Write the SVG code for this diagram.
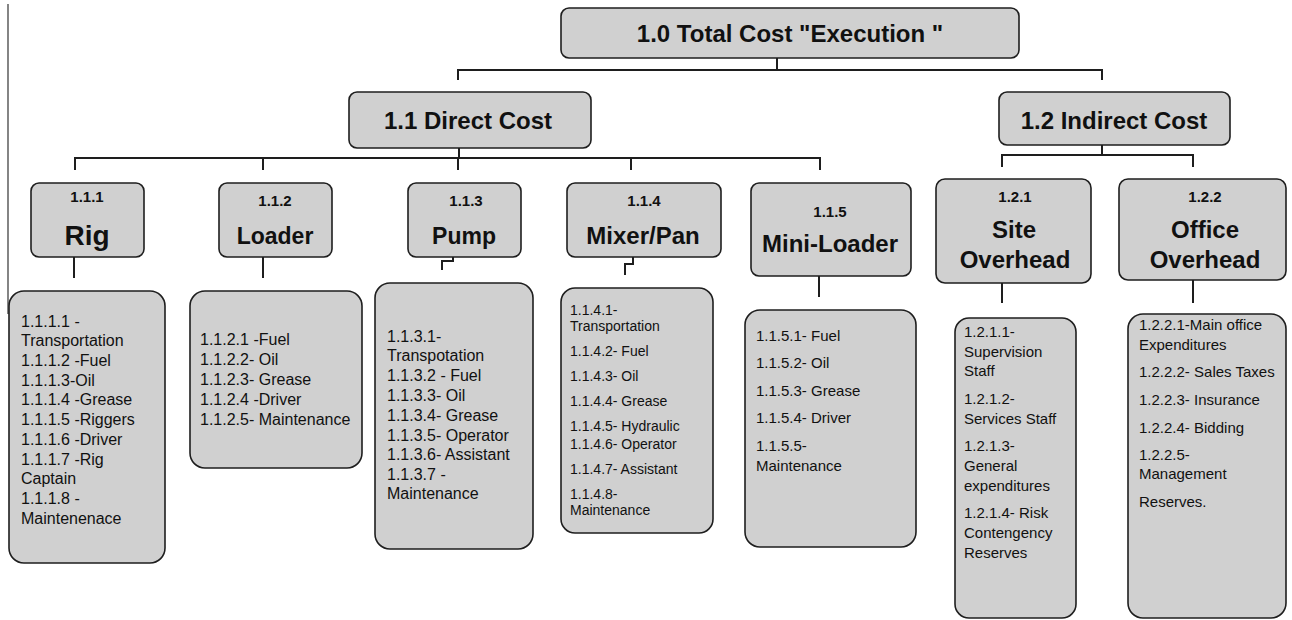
<svg xmlns="http://www.w3.org/2000/svg" width="1292" height="620" viewBox="0 0 1292 620">
<style>
.box{fill:#d0d0d0;stroke:#1e1e1e;stroke-width:1.6}
.con{fill:none;stroke:#1e1e1e;stroke-width:2}
.inner{fill:none;stroke:#b4b4b4;stroke-width:1.2}
.h1{font-family:"Liberation Sans",Arial,sans-serif;font-weight:bold;font-size:24px;fill:#111;text-anchor:middle}
.num{font-family:"Liberation Sans",Arial,sans-serif;font-weight:bold;font-size:15px;fill:#111;text-anchor:middle}
.t16{font-family:"Liberation Sans",Arial,sans-serif;font-size:16px;fill:#111}
.t15{font-family:"Liberation Sans",Arial,sans-serif;font-size:15px;fill:#111}
.t14{font-family:"Liberation Sans",Arial,sans-serif;font-size:14px;fill:#111}
</style>
<rect width="1292" height="620" fill="#ffffff"/>
<line x1="8" y1="4" x2="8" y2="314" stroke="#333" stroke-width="1.2"/>

<g id="connectors">
  <path class="con" d="M777,58 V70 M458,80 V70 H1102 V80"/>
  <path class="con" d="M459,148 V158 M75,170 V158 H820 V170 M263,158 V170 M458,158 V170 M631,158 V170"/>
  <path class="con" d="M1102,145 V155 M1002,167 V155 H1193 V167"/>
  <path class="con" d="M74,257 V278 M263,257 V278 M453,257 V261 H442 V270 M633,257 V264 H625 V275 M819,276 V297 M1002,283 V303 M1193,280 V303"/>
  <path class="inner" d="M777,34 V57 M459,124 V147 M1102,124 V144 M74,228 V256 M263,228 V256 M453,228 V256 M633,228 V256 M819,256 V275 M1002,268 V282 M1193,268 V279"/>
</g>

<g id="n1_0">
  <rect class="box" x="561" y="8" width="458" height="50" rx="8"/>
  <text class="h1" x="790" y="42">1.0 Total Cost "Execution "</text>
</g>
<g id="n1_1">
  <rect class="box" x="349" y="92" width="242" height="56" rx="8"/>
  <text class="h1" x="468" y="129">1.1 Direct Cost</text>
</g>
<g id="n1_2">
  <rect class="box" x="999" y="92" width="231" height="53" rx="8"/>
  <text class="h1" x="1114" y="129">1.2 Indirect Cost</text>
</g>

<g id="n1_1_1">
  <rect class="box" x="31" y="183" width="113" height="74" rx="8"/>
  <text class="num" x="87" y="202">1.1.1</text>
  <text class="h1" x="87" y="245" style="font-size:28px">Rig</text>
</g>
<g id="n1_1_2">
  <rect class="box" x="219" y="183" width="113" height="74" rx="8"/>
  <text class="num" x="275" y="206">1.1.2</text>
  <text class="h1" x="275" y="244" style="font-size:23px">Loader</text>
</g>
<g id="n1_1_3">
  <rect class="box" x="408" y="183" width="113" height="74" rx="8"/>
  <text class="num" x="466" y="206">1.1.3</text>
  <text class="h1" x="464" y="244" style="font-size:23px">Pump</text>
</g>
<g id="n1_1_4">
  <rect class="box" x="567" y="183" width="154" height="74" rx="8"/>
  <text class="num" x="644" y="206">1.1.4</text>
  <text class="h1" x="643" y="244">Mixer/Pan</text>
</g>
<g id="n1_1_5">
  <rect class="box" x="751" y="183" width="160" height="93" rx="8"/>
  <text class="num" x="830" y="217">1.1.5</text>
  <text class="h1" x="830" y="252">Mini-Loader</text>
</g>
<g id="n1_2_1">
  <rect class="box" x="936" y="179" width="155" height="104" rx="9"/>
  <text class="num" x="1015" y="202">1.2.1</text>
  <text class="h1" x="1014" y="238">Site</text>
  <text class="h1" x="1015" y="268">Overhead</text>
</g>
<g id="n1_2_2">
  <rect class="box" x="1119" y="179" width="167" height="101" rx="9"/>
  <text class="num" x="1205" y="202">1.2.2</text>
  <text class="h1" x="1205" y="238">Office</text>
  <text class="h1" x="1205" y="268">Overhead</text>
</g>

<g id="d1_1_1">
  <rect class="box" x="9" y="291" width="156" height="272" rx="15"/>
  <text class="t16" x="21">
    <tspan x="21" y="327">1.1.1.1 -</tspan>
    <tspan x="21" y="346">Transportation</tspan>
    <tspan x="21" y="366">1.1.1.2 -Fuel</tspan>
    <tspan x="21" y="386">1.1.1.3-Oil</tspan>
    <tspan x="21" y="405">1.1.1.4 -Grease</tspan>
    <tspan x="21" y="425">1.1.1.5 -Riggers</tspan>
    <tspan x="21" y="445">1.1.1.6 -Driver</tspan>
    <tspan x="21" y="465">1.1.1.7 -Rig</tspan>
    <tspan x="21" y="484">Captain</tspan>
    <tspan x="21" y="504">1.1.1.8 -</tspan>
    <tspan x="21" y="524">Maintenenace</tspan>
  </text>
</g>
<g id="d1_1_2">
  <rect class="box" x="190" y="291" width="172" height="177" rx="15"/>
  <text class="t16">
    <tspan x="200" y="345">1.1.2.1 -Fuel</tspan>
    <tspan x="200" y="365">1.1.2.2- Oil</tspan>
    <tspan x="200" y="385">1.1.2.3- Grease</tspan>
    <tspan x="200" y="405">1.1.2.4 -Driver</tspan>
    <tspan x="200" y="425">1.1.2.5- Maintenance</tspan>
  </text>
</g>
<g id="d1_1_3">
  <rect class="box" x="375" y="283" width="158" height="266" rx="15"/>
  <text class="t16">
    <tspan x="387" y="342">1.1.3.1-</tspan>
    <tspan x="387" y="361">Transpotation</tspan>
    <tspan x="387" y="381">1.1.3.2 - Fuel</tspan>
    <tspan x="387" y="401">1.1.3.3- Oil</tspan>
    <tspan x="387" y="421">1.1.3.4- Grease</tspan>
    <tspan x="387" y="441">1.1.3.5- Operator</tspan>
    <tspan x="387" y="460">1.1.3.6- Assistant</tspan>
    <tspan x="387" y="480">1.1.3.7 -</tspan>
    <tspan x="387" y="499">Maintenance</tspan>
  </text>
</g>
<g id="d1_1_4">
  <rect class="box" x="561" y="288" width="152" height="245" rx="14"/>
  <text class="t14">
    <tspan x="570" y="315">1.1.4.1-</tspan>
    <tspan x="570" y="331">Transportation</tspan>
    <tspan x="570" y="356">1.1.4.2- Fuel</tspan>
    <tspan x="570" y="381">1.1.4.3- Oil</tspan>
    <tspan x="570" y="406">1.1.4.4- Grease</tspan>
    <tspan x="570" y="431">1.1.4.5- Hydraulic</tspan>
    <tspan x="570" y="449">1.1.4.6- Operator</tspan>
    <tspan x="570" y="474">1.1.4.7- Assistant</tspan>
    <tspan x="570" y="499">1.1.4.8-</tspan>
    <tspan x="570" y="515">Maintenance</tspan>
  </text>
</g>
<g id="d1_1_5">
  <rect class="box" x="745" y="310" width="171" height="237" rx="15"/>
  <text class="t15">
    <tspan x="756" y="341">1.1.5.1- Fuel</tspan>
    <tspan x="756" y="368">1.1.5.2- Oil</tspan>
    <tspan x="756" y="396">1.1.5.3- Grease</tspan>
    <tspan x="756" y="423">1.1.5.4- Driver</tspan>
    <tspan x="756" y="451">1.1.5.5-</tspan>
    <tspan x="756" y="471">Maintenance</tspan>
  </text>
</g>
<g id="d1_2_1">
  <rect class="box" x="955" y="318" width="121" height="300" rx="14"/>
  <text class="t15">
    <tspan x="964" y="337">1.2.1.1-</tspan>
    <tspan x="964" y="357">Supervision</tspan>
    <tspan x="964" y="376">Staff</tspan>
    <tspan x="964" y="404">1.2.1.2-</tspan>
    <tspan x="964" y="424">Services Staff</tspan>
    <tspan x="964" y="451">1.2.1.3-</tspan>
    <tspan x="964" y="471">General</tspan>
    <tspan x="964" y="491">expenditures</tspan>
    <tspan x="964" y="518">1.2.1.4- Risk</tspan>
    <tspan x="964" y="538">Contengency</tspan>
    <tspan x="964" y="558">Reserves</tspan>
  </text>
</g>
<g id="d1_2_2">
  <rect class="box" x="1128" y="314" width="158" height="304" rx="15"/>
  <text class="t15">
    <tspan x="1139" y="330">1.2.2.1-Main office</tspan>
    <tspan x="1139" y="350">Expenditures</tspan>
    <tspan x="1139" y="377">1.2.2.2- Sales Taxes</tspan>
    <tspan x="1139" y="405">1.2.2.3- Insurance</tspan>
    <tspan x="1139" y="433">1.2.2.4- Bidding</tspan>
    <tspan x="1139" y="460">1.2.2.5-</tspan>
    <tspan x="1139" y="479">Management</tspan>
    <tspan x="1139" y="507">Reserves.</tspan>
  </text>
</g>
</svg>
